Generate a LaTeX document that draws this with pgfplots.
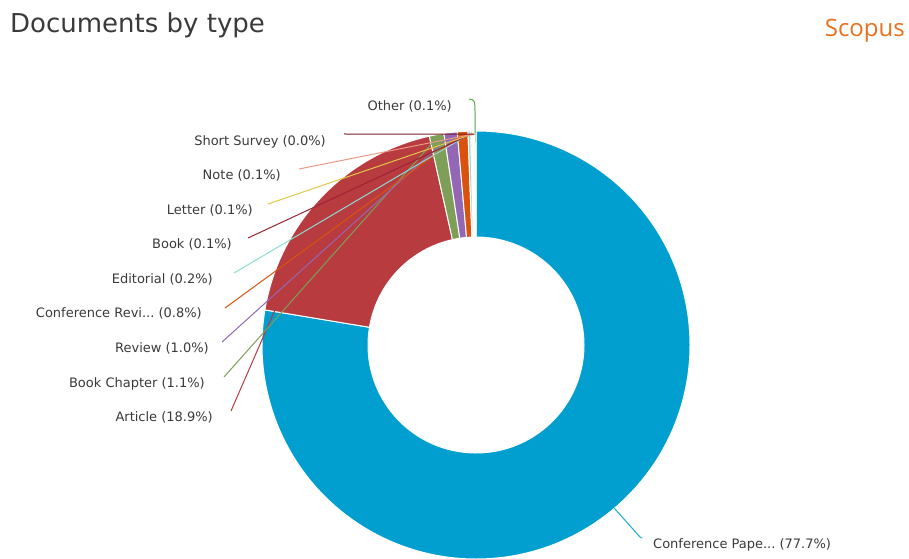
\documentclass[border=0pt]{standalone}
\usepackage{pgfplots}
\usepackage{pgfplotstable}
\pgfplotsset{compat=1.18}
\usepackage{fontspec}
\setmainfont{DejaVu Sans}
\newfontfamily\logofont{Open Sans}

\definecolor{cpaper}{HTML}{009FCF}
\definecolor{carticle}{HTML}{B83B40}
\definecolor{cchapter}{HTML}{7E9F57}
\definecolor{creview}{HTML}{9467B4}
\definecolor{cconfrev}{HTML}{D9530F}
\definecolor{ceditorial}{HTML}{8EDCCF}
\definecolor{cbook}{HTML}{9B2335}
\definecolor{cletter}{HTML}{E2C64A}
\definecolor{cnote}{HTML}{EA9A85}
\definecolor{csurvey}{HTML}{7C1F2C}
\definecolor{cother}{HTML}{58A84A}
\definecolor{labelgray}{HTML}{3A3A3A}
\definecolor{scopusorange}{HTML}{E9711C}

% share (%), colour, label position (right end, centre) and leader start, in px from top left
\pgfplotstableread[col sep=comma]{
name,value,col,tx,ty,sx,sy
Conference Pape...,77.7,cpaper,653,545,642,538
Article,18.9,carticle,213,417,231,411
Book Chapter,1.1,cchapter,205,383,224,377
Review,1.0,creview,209,348,222,342
Conference Revi...,0.8,cconfrev,202,313,225,308
Editorial,0.2,ceditorial,213,279,234,273
Book,0.1,cbook,232,244,248,238
Letter,0.1,cletter,253,210,268,204
Note,0.1,cnote,281,175,299,169
Short Survey,0.0,csurvey,326,141,344,134
Other,0.1,cother,452,106,469,99
}\doctypes

\def\total{100.1}
\def\cenx{476}
\def\ceny{213}
\def\rout{214pt}
\def\rin{108pt}

\begin{document}
\begin{tikzpicture}
\begin{axis}[
width=909pt,
height=558pt,
scale only axis,
xmin=0,
xmax=909,
ymin=0,
ymax=558,
hide axis,
at={(0pt,0pt)},
anchor=south west
]

\pgfplotsextra{
% wedges
\gdef\cumval{0}
\foreach \i in {0,...,10}{
  \pgfplotstablegetelem{\i}{value}\of\doctypes
  \edef\sliceval{\pgfplotsretval}
  \pgfplotstablegetelem{\i}{col}\of\doctypes
  \edef\slicecol{\pgfplotsretval}
  \pgfmathsetmacro\aone{90-\cumval/\total*360}
  \pgfmathsetmacro\atwo{90-(\cumval+\sliceval)/\total*360}
  \pgfmathsetmacro\newcum{\cumval+\sliceval}
  \xdef\cumval{\newcum}
  \pgfmathsetmacro\amid{(\aone+\atwo)/2}
  \expandafter\xdef\csname amid\i\endcsname{\amid}
  \fill[\slicecol, draw=white, line width=1pt]
    ([shift={(\aone:\rout)}]axis cs:\cenx,\ceny)
    arc[start angle=\aone, end angle=\atwo, radius=\rout]
    -- ([shift={(\atwo:\rin)}]axis cs:\cenx,\ceny)
    arc[start angle=\atwo, end angle=\aone, radius=\rin]
    -- cycle;
}

% leader lines and labels
\foreach \i in {0,...,10}{
  \pgfplotstablegetelem{\i}{value}\of\doctypes
  \edef\sliceval{\pgfplotsretval}
  \pgfplotstablegetelem{\i}{col}\of\doctypes
  \edef\slicecol{\pgfplotsretval}
  \pgfplotstablegetelem{\i}{name}\of\doctypes
  \edef\slicename{\pgfplotsretval}
  \pgfplotstablegetelem{\i}{tx}\of\doctypes
  \edef\labx{\pgfplotsretval}
  \pgfplotstablegetelem{\i}{ty}\of\doctypes
  \pgfmathsetmacro\laby{558-\pgfplotsretval}
  \pgfplotstablegetelem{\i}{sx}\of\doctypes
  \edef\linex{\pgfplotsretval}
  \pgfplotstablegetelem{\i}{sy}\of\doctypes
  \pgfmathsetmacro\liney{558-\pgfplotsretval}
  \edef\amidval{\csname amid\i\endcsname}
  \ifnum\i=10
    \draw[\slicecol, line width=1pt] (axis cs:\linex,\liney)
      .. controls (axis cs:475,458) .. (axis cs:475,443) -- (axis cs:475,425);
  \else
    \ifnum\i=0
      \draw[\slicecol!90, line width=1pt] (axis cs:\linex,\liney) -- (axis cs:640,21)
        -- ([shift={(\amidval:\rout)}]axis cs:\cenx,\ceny);
    \else
      \draw[\slicecol, line width=1pt] (axis cs:\linex,\liney)
        -- ([shift={(\amidval:211pt)}]axis cs:\cenx,\ceny);
    \fi
  \fi
  \ifnum\i=0
    \node[anchor=west, inner sep=0pt, text=labelgray, font=\fontsize{13}{15}\selectfont]
      at (axis cs:\labx,\laby) {\slicename\ (\pgfmathprintnumber[assume math mode=true,fixed,fixed zerofill,precision=1]{\sliceval}\%)};
  \else
    \node[anchor=east, inner sep=0pt, text=labelgray, font=\fontsize{13}{15}\selectfont]
      at (axis cs:\labx,{\laby-0.5}) {\slicename\ (\pgfmathprintnumber[assume math mode=true,fixed,fixed zerofill,precision=1]{\sliceval}\%)};
  \fi
}
}

\node[anchor=base west, inner sep=0pt, text=labelgray, font=\fontsize{26}{30}\selectfont]
  at (axis cs:10,525) {Documents by type};
\node[anchor=base east, inner sep=0pt, text=scopusorange, font=\logofont\fontsize{24}{28}\selectfont]
  at (axis cs:905,521) {Scopus};

\end{axis}
\pgfresetboundingbox
\path (0pt,0pt) rectangle (909pt,558pt);
\end{tikzpicture}
\end{document}
